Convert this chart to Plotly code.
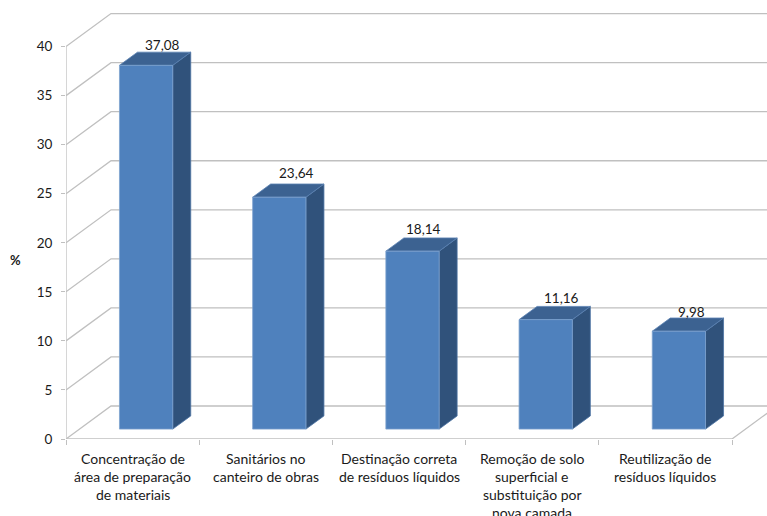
import plotly.graph_objects as go

# Chart data
categories = [
    ["Concentração de", "área de preparação", "de materiais"],
    ["Sanitários no", "canteiro de obras"],
    ["Destinação correta", "de resíduos líquidos"],
    ["Remoção de solo", "superficial e", "substituição por", "nova camada"],
    ["Reutilização de", "resíduos líquidos"],
]
values = [37.08, 23.64, 18.14, 11.16, 9.98]
y_ticks = [0, 5, 10, 15, 20, 25, 30, 35, 40]

# Pixel layout of the plot frame
PX_PER_CAT = 133.2
PX_PER_UNIT = 9.81
M_LEFT, M_TOP, M_BOTTOM = 66, 13, 77
WIDTH, HEIGHT = 767, 516

# Oblique projection: how far one full unit of depth shifts a point
DEPTH_X = 45 / PX_PER_CAT
DEPTH_Y = 33 / PX_PER_UNIT
BAR_WIDTH = 0.40
BAR_D0, BAR_D1 = 0.30, 0.70

FONT = "Lato"
TEXT = "#1a1a1a"
GRID = "#c0c0c0"
FRONT, SIDE, TOP = "#4f81bd", "#30527b", "#3c6291"
EDGE = "#7fa3cf"

# Per-label nudge of the value text above the bar front, in pixels
label_dx = [16, 17, 11, 16, 13]
label_dy = [20, 24, 22, 22, 19]


def project(x, v, d):
    return x + d * DEPTH_X, v + d * DEPTH_Y


def polygon(fig, corners, fill, edge):
    pts = [project(*c) for c in corners]
    xs = [p[0] for p in pts] + [pts[0][0]]
    ys = [p[1] for p in pts] + [pts[0][1]]
    fig.add_trace(go.Scatter(x=xs, y=ys, mode="lines", fill="toself", fillcolor=fill,
                             line=dict(color=edge, width=0.8), hoverinfo="skip"))


def polyline(fig, corners, color=GRID, width=1.3):
    pts = [project(*c) for c in corners]
    fig.add_trace(go.Scatter(x=[p[0] for p in pts], y=[p[1] for p in pts], mode="lines",
                             line=dict(color=color, width=width), hoverinfo="skip"))


fig = go.Figure()
n = len(categories)

# Walls and floor
for v in y_ticks:
    polyline(fig, [(0, v, 0), (0, v, 1), (n, v, 1)])
polyline(fig, [(0, 0, 0), (0, max(y_ticks), 0)])
polyline(fig, [(0, 0, 0), (n, 0, 0), (n, 0, 1)])

# Bars: side, top and front faces
for i, v in enumerate(values):
    x0 = i + 0.5 - BAR_WIDTH / 2
    x1 = i + 0.5 + BAR_WIDTH / 2
    polygon(fig, [(x1, 0, BAR_D0), (x1, 0, BAR_D1), (x1, v, BAR_D1), (x1, v, BAR_D0)], SIDE, "#4d73a3")
    polygon(fig, [(x0, v, BAR_D0), (x1, v, BAR_D0), (x1, v, BAR_D1), (x0, v, BAR_D1)], TOP, "#5b82b3")
    polygon(fig, [(x0, 0, BAR_D0), (x1, 0, BAR_D0), (x1, v, BAR_D0), (x0, v, BAR_D0)], FRONT, EDGE)

annotations = []

# Value labels
for i, v in enumerate(values):
    x, y = project(i + 0.5, v, BAR_D0)
    annotations.append(dict(x=x, y=y, xref="x", yref="y", text=f"{v:.2f}".replace(".", ","),
                            showarrow=False, xshift=label_dx[i], yshift=label_dy[i],
                            xanchor="center", yanchor="middle",
                            font=dict(family=FONT, size=13.5, color=TEXT)))

# Category labels, one annotation per line to hold the line pitch
for i, lines in enumerate(categories):
    for j, line in enumerate(lines):
        annotations.append(dict(x=i + 0.5, y=0, xref="x", yref="paper", text=line,
                                showarrow=False, xanchor="center", yanchor="middle",
                                yshift=-19 - 18.3 * j,
                                font=dict(family=FONT, size=14, color=TEXT)))

# Axis title
annotations.append(dict(x=(15 - M_LEFT) / (WIDTH - M_LEFT),
                        y=(HEIGHT - M_BOTTOM - 260) / (HEIGHT - M_BOTTOM - M_TOP),
                        xref="paper", yref="paper", text="<b>%</b>", showarrow=False,
                        xanchor="center", yanchor="middle",
                        font=dict(family=FONT, size=13, color=TEXT)))

fig.update_layout(
    width=WIDTH, height=HEIGHT, showlegend=False,
    margin=dict(l=M_LEFT, r=0, t=M_TOP, b=M_BOTTOM, pad=0),
    paper_bgcolor="white", plot_bgcolor="white",
    annotations=annotations,
    xaxis=dict(range=[0, (WIDTH - M_LEFT) / PX_PER_CAT], showgrid=False, zeroline=False,
               showline=False, showticklabels=False, ticks="outside",
               tickmode="array", tickvals=list(range(n + 1)), ticklen=5,
               tickcolor=GRID, tickwidth=1.3),
    yaxis=dict(range=[0, (HEIGHT - M_BOTTOM - M_TOP) / PX_PER_UNIT], showgrid=False, zeroline=False,
               showline=False, tickmode="array", tickvals=y_ticks, ticks="outside", ticklen=4,
               tickcolor=GRID, tickwidth=1.3, ticklabelstandoff=6,
               tickfont=dict(family=FONT, size=13.5, color=TEXT)),
)

fig.write_html("out.html", config={"displayModeBar": False})
